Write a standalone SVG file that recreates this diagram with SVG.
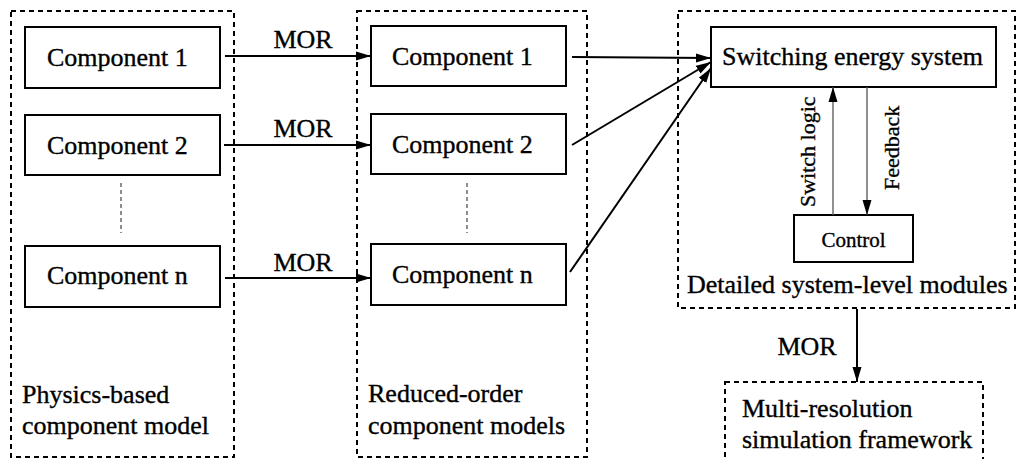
<svg xmlns="http://www.w3.org/2000/svg" width="1019" height="459" viewBox="0 0 1019 459">
<style>
text{font-family:"Liberation Serif","Times New Roman",serif;fill:#000;stroke:#000;stroke-width:0.35}
.t26{font-size:26px}
.t22{font-size:22px}
.t21{font-size:21px}
.box{fill:#fff;stroke:#000;stroke-width:2}
.dash{fill:none;stroke:#000;stroke-width:2;stroke-dasharray:5 4}
.dot{fill:none;stroke:#444;stroke-width:1.2;stroke-dasharray:4 3}
.con{fill:none;stroke:#000;stroke-width:2}
.thin{fill:none;stroke:#555;stroke-width:1.3}
</style>
<defs>
<marker id="ah" markerWidth="16" markerHeight="10" refX="15" refY="5" orient="auto" markerUnits="userSpaceOnUse">
<path d="M0,0.5 L15,5 L0,9.5 Z" fill="#000"/>
</marker>
</defs>

<g id="group-physics">
<rect class="dash" x="11" y="11" width="223" height="446"/>
<text class="t26" x="22" y="403">Physics-based</text>
<text class="t26" x="22" y="434">component model</text>
<line class="dot" x1="121" y1="183" x2="121" y2="233"/>
</g>
<g id="group-reduced">
<rect class="dash" x="357" y="11" width="230" height="446"/>
<text class="t26" x="368" y="402">Reduced-order</text>
<text class="t26" x="368" y="434">component models</text>
<line class="dot" x1="467" y1="183" x2="467" y2="233"/>
</g>
<g id="group-detailed">
<rect class="dash" x="678" y="11" width="337" height="297"/>
<text class="t26" x="687" y="293">Detailed system-level modules</text>
</g>
<g id="group-multires">
<rect class="dash" x="725" y="382" width="258" height="90"/>
<text class="t26" x="742" y="417">Multi-resolution</text>
<text class="t26" x="742" y="448">simulation framework</text>
</g>

<g id="pc1"><rect class="box" x="25" y="27" width="195" height="61"/><text class="t26" x="47" y="66">Component 1</text></g>
<g id="pc2"><rect class="box" x="25" y="115" width="195" height="60"/><text class="t26" x="47" y="154">Component 2</text></g>
<g id="pcn"><rect class="box" x="25" y="246" width="195" height="61"/><text class="t26" x="47" y="284">Component n</text></g>

<g id="rc1"><rect class="box" x="371" y="26" width="195" height="60"/><text class="t26" x="392" y="65">Component 1</text></g>
<g id="rc2"><rect class="box" x="371" y="114" width="195" height="60"/><text class="t26" x="392" y="153">Component 2</text></g>
<g id="rcn"><rect class="box" x="371" y="244" width="195" height="61"/><text class="t26" x="392" y="283">Component n</text></g>

<g id="switching"><rect class="box" x="711" y="27" width="285" height="60"/><text class="t26" x="722" y="65">Switching energy system</text></g>
<g id="control"><rect class="box" x="794" y="215" width="119" height="47"/><text class="t21" x="853.5" y="247" text-anchor="middle">Control</text></g>

<g id="connectors">
<line class="con" x1="225" y1="56" x2="371" y2="56" marker-end="url(#ah)"/>
<text class="t26" x="303" y="48" text-anchor="middle">MOR</text>
<line class="con" x1="224" y1="145" x2="371" y2="145" marker-end="url(#ah)"/>
<text class="t26" x="303" y="137" text-anchor="middle">MOR</text>
<line class="con" x1="225" y1="278" x2="371" y2="278" marker-end="url(#ah)"/>
<text class="t26" x="303" y="271" text-anchor="middle">MOR</text>

<line class="con" x1="572" y1="57" x2="711" y2="58" marker-end="url(#ah)"/>
<line class="con" x1="572" y1="145" x2="711" y2="62" marker-end="url(#ah)"/>
<line class="con" x1="570" y1="272" x2="711" y2="68" marker-end="url(#ah)"/>

<line class="thin" x1="833" y1="215" x2="833" y2="87" marker-end="url(#ah)"/>
<text class="t22" transform="translate(815,207) rotate(-90)">Switch logic</text>
<line class="thin" x1="867" y1="87" x2="867" y2="215" marker-end="url(#ah)"/>
<text class="t22" transform="translate(899,190) rotate(-90)">Feedback</text>

<line class="con" x1="857" y1="309" x2="857" y2="382" marker-end="url(#ah)"/>
<text class="t26" x="807" y="355" text-anchor="middle">MOR</text>
</g>
</svg>
